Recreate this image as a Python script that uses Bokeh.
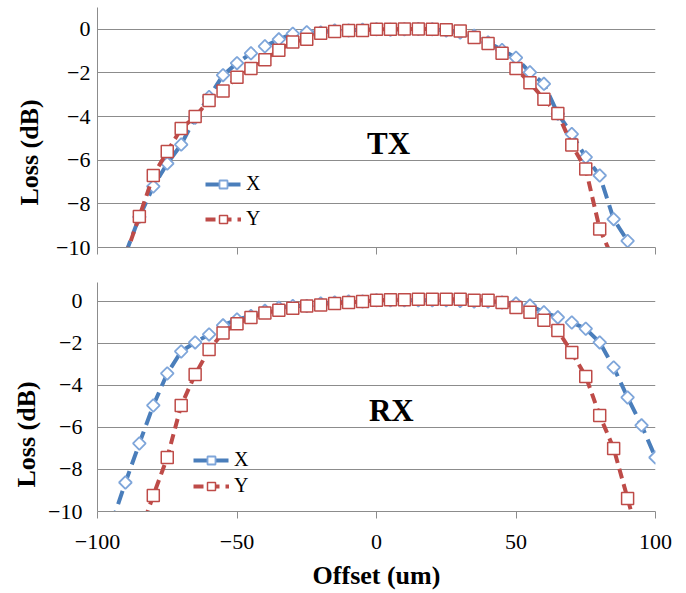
import numpy as np
from bokeh.plotting import figure
from bokeh.layouts import column
from bokeh.models import FixedTicker, Legend, LegendItem, Range1d, Label, Title
from bokeh.embed import file_html
from bokeh.resources import INLINE

# ---------------- data ----------------
tx_x_offset = [-90, -85, -80, -75, -70, -65, -60, -55, -50, -45, -40, -35, -30, -25, -20, -15, -10, -5,
               0, 5, 10, 15, 20, 25, 30, 35, 40, 45, 50, 55, 60, 65, 70, 75, 80, 85, 90]
tx_x_loss = [-10.3, -8.6, -7.2, -6.15, -5.28, -4.05, -3.1, -2.1, -1.55, -1.1, -0.78, -0.46, -0.2, -0.13,
             -0.15, -0.05, -0.05, -0.02, 0.0, -0.02, 0.0, 0.02, 0.0, -0.05, -0.15, -0.3, -0.6, -0.95,
             -1.3, -1.97, -2.5, -3.87, -4.8, -5.86, -6.7, -8.7, -9.7]

tx_y_offset = [-90, -85, -80, -75, -70, -65, -60, -55, -50, -45, -40, -35, -30, -25, -20, -15, -10, -5,
               0, 5, 10, 15, 20, 25, 30, 35, 40, 45, 50, 55, 60, 65, 70, 75, 80, 85]
tx_y_loss = [-10.4, -8.58, -6.7, -5.6, -4.55, -4.0, -3.26, -2.83, -2.2, -1.8, -1.4, -0.96, -0.58, -0.46,
             -0.18, -0.1, -0.05, -0.05, 0.0, 0.0, 0.02, 0.02, 0.0, -0.02, -0.08, -0.37, -0.65, -1.1,
             -1.8, -2.45, -3.2, -3.86, -5.3, -6.4, -9.15, -10.6]

rx_x_offset = [-95, -90, -85, -80, -75, -70, -65, -60, -55, -50, -45, -40, -35, -30, -25, -20, -15, -10, -5,
               0, 5, 10, 15, 20, 25, 30, 35, 40, 45, 50, 55, 60, 65, 70, 75, 80, 85, 90, 95, 100]
rx_x_loss = [-10.6, -8.62, -6.76, -4.95, -3.43, -2.38, -1.95, -1.57, -1.14, -0.86, -0.7, -0.45, -0.3,
             -0.22, -0.22, -0.1, -0.05, 0.0, 0.0, 0.05, 0.05, 0.05, 0.05, 0.05, 0.05, 0.02, 0.0, 0.0,
             -0.05, -0.1, -0.2, -0.52, -0.76, -1.0, -1.3, -1.95, -3.14, -4.57, -5.9, -7.43]

rx_y_offset = [-85, -80, -75, -70, -65, -60, -55, -50, -45, -40, -35, -30, -25, -20, -15, -10, -5,
               0, 5, 10, 15, 20, 25, 30, 35, 40, 45, 50, 55, 60, 65, 70, 75, 80, 85, 90, 95]
rx_y_loss = [-11.1, -9.24, -7.43, -4.95, -3.48, -2.29, -1.5, -1.06, -0.77, -0.55, -0.42, -0.32, -0.22,
             -0.17, -0.1, -0.05, 0.0, 0.05, 0.08, 0.08, 0.1, 0.1, 0.1, 0.1, 0.05, 0.05, -0.05, -0.29,
             -0.52, -0.9, -1.38, -2.43, -3.57, -5.43, -7.0, -9.38, -11.8]

x_ticks = [-100, -50, 0, 50, 100]
y_ticks = [-10, -8, -6, -4, -2, 0]

BLUE = "#4A7EBB"
BLUE_M = "#7FA6DA"
RED = "#BE4B48"
GRID = "#8C8C8C"
SERIF = "Liberation Serif"


def make_panel(width, height, left, right, top, bottom, ytop, show_xlabels, ylab_standoff):
    p = figure(width=width, height=height, output_backend="svg", toolbar_location=None,
               x_range=Range1d(-100, 100), y_range=Range1d(-10, ytop),
               min_border_left=left, min_border_right=right,
               min_border_top=top, min_border_bottom=bottom)
    p.outline_line_color = None
    p.background_fill_color = "white"
    p.xgrid.grid_line_color = None
    p.ygrid.grid_line_color = GRID
    p.ygrid.grid_line_width = 1
    p.ygrid.ticker = FixedTicker(ticks=y_ticks)

    p.xaxis.ticker = FixedTicker(ticks=x_ticks)
    p.xaxis.axis_line_color = GRID
    p.xaxis.major_tick_line_color = GRID
    p.xaxis.major_tick_out = 7
    p.xaxis.major_tick_in = 0
    p.xaxis.minor_tick_line_color = None
    p.xaxis.major_label_text_font = SERIF
    p.xaxis.major_label_text_font_size = "22px"
    p.xaxis.major_label_text_color = "black"
    if show_xlabels:
        p.xaxis.axis_label = "Offset (um)"
        p.xaxis.axis_label_text_font = SERIF
        p.xaxis.axis_label_text_font_style = "bold"
        p.xaxis.axis_label_text_font_size = "26px"
        p.xaxis.axis_label_text_color = "black"
        p.xaxis.major_label_standoff = 16
        p.xaxis.axis_label_standoff = 9
    else:
        p.xaxis.major_label_overrides = {t: "" for t in x_ticks}
        p.xaxis.major_label_standoff = 0

    p.yaxis.ticker = FixedTicker(ticks=y_ticks)
    p.yaxis.axis_line_color = GRID
    p.yaxis.major_tick_line_color = None
    p.yaxis.major_tick_out = 0
    p.yaxis.major_tick_in = 0
    p.yaxis.minor_tick_line_color = None
    p.yaxis.major_label_text_font = SERIF
    p.yaxis.major_label_text_font_size = "22px"
    p.yaxis.major_label_text_color = "black"
    p.yaxis.major_label_standoff = ylab_standoff
    return p


def add_ylabel(p, offset, standoff):
    # y-axis title as a left side title, its start placed like the original
    p.add_layout(Title(text="Loss (dB)", align="left", offset=offset, standoff=standoff,
                       text_font=SERIF, text_font_style="bold", text_font_size="26px",
                       text_color="black"), "left")


def add_series(p, xs, ys, ys2, xs2):
    lb = p.line(xs, ys, line_color=BLUE, line_width=4, line_dash="14 7")
    sb = p.scatter(xs, ys, marker="square", angle=np.pi / 4, size=9,
                   line_color=BLUE_M, line_width=1.8, fill_color="white")
    lr = p.line(xs2, ys2, line_color=RED, line_width=4, line_dash="10 6")
    sr = p.scatter(xs2, ys2, marker="square", size=12,
                   line_color=RED, line_width=1.5, fill_color="white")
    return (lb, sb), (lr, sr)


def add_legend(p, blue, red, loc, spacing):
    leg = Legend(items=[LegendItem(label="X", renderers=list(blue)),
                        LegendItem(label="Y", renderers=list(red))],
                 location=loc, orientation="vertical")
    leg.glyph_width = 36
    leg.glyph_height = 20
    leg.label_height = 20
    leg.spacing = spacing
    leg.padding = 0
    leg.margin = 0
    leg.label_standoff = 5
    leg.label_text_font = SERIF
    leg.label_text_font_size = "20px"
    leg.label_text_color = "black"
    leg.background_fill_alpha = 0
    leg.border_line_color = None
    p.add_layout(leg)


# top panel (TX): frame x 97..661, y 7..247
p1 = make_panel(width=686, height=272, left=97, right=25, top=7, bottom=25, ytop=1.0,
                show_xlabels=False, ylab_standoff=7)
b1, r1 = add_series(p1, tx_x_offset, tx_x_loss, tx_y_loss, tx_y_offset)
add_legend(p1, b1, r1, (108, 17), 12)
add_ylabel(p1, 42, 20)
p1.add_layout(Label(x=4.3, y=-5.23, text="TX", text_align="center", text_baseline="middle",
                    text_font=SERIF, text_font_style="bold", text_font_size="31px",
                    text_color="black"))

# bottom panel (RX): frame x 94..655, y 282..511
p2 = make_panel(width=686, height=321, left=94, right=31, top=10, bottom=82, ytop=0.9,
                show_xlabels=True, ylab_standoff=15)
b2, r2 = add_series(p2, rx_x_offset, rx_x_loss, rx_y_loss, rx_y_offset)
add_legend(p2, b2, r2, (96, 14), 3)
add_ylabel(p2, 24, 9)
p2.add_layout(Label(x=5.3, y=-5.2, text="RX", text_align="center", text_baseline="middle",
                    text_font=SERIF, text_font_style="bold", text_font_size="31px",
                    text_color="black"))

layout = column(p1, p2, spacing=0)
open("out.html", "w").write(file_html(layout, INLINE))
